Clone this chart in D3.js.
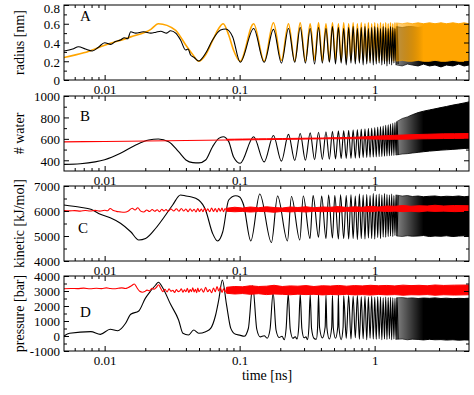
<!DOCTYPE html>
<html>
<head>
<meta charset="utf-8">
<script src="https://cdn.jsdelivr.net/npm/d3@7"></script>
<style>
  body { margin: 0; background: #fff; }
  text { font-family: "Liberation Serif", "Times New Roman", serif; fill: #000; }
  .tick text { font-size: 13px; }
</style>
</head>
<body>
<div id="chart"></div>
<script>
// ---- data ----

// times (ns) of successive extrema of the oscillation, trough / peak alternating
const tExt = [0.101,0.127,0.152,0.178,0.204,0.230,0.256,0.281,0.307,0.333,
              0.359,0.384,0.410,0.436,0.462,0.487,0.513,0.539,0.565,0.590,
              0.616,0.642,0.668,0.693,0.719,0.745,0.771,0.796,0.822,0.848,
              0.874,0.899,0.925,0.951,0.977,1.002,1.028,1.054,1.080,1.105,
              1.131,1.157,1.183,1.208,1.234,1.260,1.286,1.311,1.337,1.363,
              1.389,1.414,1.440,1.466,1.492];

// times where the traces become a dense band
const bandT = [1.45,1.6,1.75,1.9,2.1,2.3,2.55,2.8,3.1,3.4,3.8,4.2,4.6,5.0];
const redT = [0.08,0.092,0.105,0.12,0.138,0.158,0.18,0.207,0.237,0.27,
              0.31,0.355,0.41,0.47,0.54,0.62,0.71,0.81,0.93,1.07,
              1.23,1.41,1.62,1.86,2.13,2.45,2.8,3.25,3.9,5.0];

// A: radius [nm]
const aEarly = [[0.005,0.31],[0.0058,0.33],[0.0064,0.355],[0.0072,0.33],[0.0081,0.31],[0.009,0.35],
  [0.01,0.398],[0.0111,0.38],[0.012,0.41],[0.0131,0.427],[0.014,0.45],[0.0148,0.44],[0.0156,0.515],
  [0.017,0.5],[0.0194,0.515],[0.022,0.5],[0.024,0.51],[0.026,0.52],[0.0288,0.5],[0.0308,0.526],
  [0.0336,0.5],[0.0365,0.427],[0.0398,0.32],[0.0415,0.33],[0.0433,0.267],[0.046,0.24],[0.0497,0.203],
  [0.0559,0.285],[0.063,0.427],[0.0722,0.533],[0.0787,0.544],[0.0887,0.462]];
const aLate = [0.19,0.55,0.19,0.54,0.18,0.55,0.19,0.56,0.18,0.55,0.17,0.56,0.18,0.55,0.19,0.57,
  0.17,0.56,0.18,0.55,0.16,0.56,0.18,0.57,0.17,0.55,0.18,0.56,0.16,0.57,0.17,0.55,0.18,0.56,
  0.16,0.57,0.17,0.56,0.18,0.55,0.16,0.57,0.17,0.56,0.15,0.55,0.17,0.57,0.16,0.56,0.18,0.55,
  0.16,0.57,0.17];
const aBandHi = [0.57,0.56,0.57,0.57,0.56,0.57,0.56,0.57,0.57,0.56,0.57,0.56,0.57,0.57];
const aBandLo = [0.16,0.15,0.17,0.16,0.15,0.17,0.15,0.16,0.14,0.16,0.15,0.17,0.15,0.16];
const orgEarly = [[0.005,0.24],[0.007,0.29],[0.01,0.37],[0.0156,0.46],[0.022,0.54],[0.025,0.60],
  [0.0336,0.53],[0.0365,0.46],[0.04,0.37],[0.045,0.27],[0.0497,0.20],[0.056,0.27],[0.063,0.42],
  [0.07,0.55],[0.0755,0.60],[0.083,0.48],[0.09,0.32]];
const orgLate = [0.20,0.60,0.20,0.61,0.21,0.60,0.20,0.61,0.20,0.60,
  0.21,0.61,0.20,0.60,0.20,0.61,0.21,0.60,0.20,0.61,
  0.20,0.60,0.21,0.61,0.20,0.60,0.20,0.61,0.21,0.60,
  0.20,0.61,0.20,0.60,0.21,0.61,0.20,0.60,0.20,0.61,
  0.21,0.60,0.20,0.61,0.20,0.60,0.21,0.61,0.20,0.60,
  0.20,0.61,0.21,0.60,0.20];
const orgBandHi = [0.61,0.60,0.61,0.60,0.61,0.60,0.61,0.60,0.61,0.60,0.61,0.60,0.61,0.60];
const orgBandLo = [0.20,0.21,0.20,0.20,0.21,0.20,0.20,0.21,0.20,0.20,0.21,0.20,0.20,0.21];

// B: # water
const bEarly = [[0.005,362],[0.0066,368],[0.0085,385],[0.01,405],[0.0131,465],[0.017,543],
  [0.0212,589],[0.025,598],[0.0298,574],[0.0353,480],[0.04,403],[0.045,378],[0.05,376],
  [0.056,403],[0.063,527],[0.07,605],[0.0755,620],[0.083,574],[0.09,434]];
const bLate = [372,620,385,632,392,642,398,650,400,656,405,662,408,667,410,671,413,675,
  415,678,418,681,418,684,420,688,422,692,425,695,426,699,428,702,430,706,432,710,
  434,715,436,720,438,726,440,732,442,738,444,745,446,752,448,760,450];
const bBandHi = [760,790,805,825,845,858,870,880,892,902,915,925,935,945];
const bBandLo = [450,458,462,468,474,480,486,490,495,498,502,506,510,512];
const bRedEarly = [[0.005,572],[0.01,576],[0.02,580],[0.04,585],[0.08,590]];
const bRedLo = [588,589,590,591,592,593,594,595,596,597,598,599,600,601,600,
  601,601,600,598,597,596,596,597,598,600,601,602,603,604,605];
const bRedHi = [596,597,598,599,600,601,602,603,604,605,606,607,608,610,611,
  613,615,618,622,626,630,633,636,639,641,643,645,647,648,650];

// C: kinetic [kJ/mol]
const cEarly = [[0.005,6240],[0.0066,6150],[0.0079,6070],[0.0093,5870],[0.011,5730],[0.0131,5510],
  [0.0156,5170],[0.0179,4840],[0.0201,4900],[0.0239,5310],[0.0283,5840],[0.0319,6240],[0.0365,6640],
  [0.04,6600],[0.0433,6570],[0.0497,6440],[0.0559,6040],[0.063,5110],[0.0686,4800],[0.075,5170],
  [0.083,6440],[0.0935,6610],[0.1,6560],[0.107,6240],[0.121,4800],[0.141,6680],[0.172,4740],
  [0.191,6600],[0.226,4800],[0.242,6580],[0.279,4840],[0.296,6600],[0.332,4900],[0.35,6620],
  [0.384,4950],[0.405,6600],[0.436,4900],[0.456,6640],[0.487,4920],[0.507,6620],[0.539,4880],
  [0.559,6650],[0.590,4900]];
const cLate = [6620,4880,6650,4900,6600,4860,6680,4900,6640,4880,6660,4920,6620,4900,6700,4880,
  6650,4940,6680,4900,6640,4960,6700,4950,6660,4980,6640,5000,6680,4980,6620,5020,6650,5000,6620];
const cBandHi = [6640,6600,6620,6580,6600,6570,6590,6600,6570,6590,6580,6600,6570,6590];
const cBandLo = [5000,4980,5010,4990,5000,5020,4980,5000,4990,5010,4980,5000,5010,4990];
const cRedEarly = [[0.005,6020],[0.0055,6005],[0.006,6015],[0.0066,5995],[0.0072,6020],[0.0078,6000],
  [0.0085,6025],[0.0092,5995],[0.01,6030],[0.0105,6010],[0.011,6100],[0.0115,6030],[0.0122,5985],
  [0.013,5965],[0.014,5950],[0.015,6000],[0.016,6110],[0.0168,6040],[0.0176,6130],[0.0185,5995],
  [0.0195,5960],[0.0205,6040],[0.0215,5980],[0.0225,6060],[0.0235,5990],[0.0245,6050],[0.0255,5970],
  [0.0265,6070],[0.0275,6000],[0.0285,6060],[0.0295,5980],[0.031,6080],[0.0325,6000],[0.034,6090],
  [0.0355,5990],[0.037,6100],[0.0385,6000],[0.04,6080],[0.0415,5970],[0.043,6090],[0.0445,5990],
  [0.046,6070],[0.0475,5960],[0.049,6100],[0.0505,5980],[0.052,6080],[0.0535,5970],[0.055,6110],
  [0.0565,5990],[0.058,6090],[0.06,5970],[0.062,6120],[0.064,5980],[0.066,6100],[0.068,5960],
  [0.07,6110],[0.072,5990],[0.074,6120],[0.076,5970],[0.078,6100],[0.08,6000]];
const cRedLo = [5990,5970,5985,5960,5980,5975,5950,5985,5965,5980,5960,5990,5970,5985,5960,
  5995,5975,5990,5970,6000,5980,5995,5975,5990,5970,6000,5985,5995,5975,5990];
const cRedHi = [6110,6150,6120,6160,6130,6170,6140,6120,6160,6140,6170,6130,6160,6150,6180,
  6140,6170,6150,6190,6160,6200,6190,6220,6190,6210,6200,6230,6200,6220,6210];

// D: pressure [bar]
const dEarly = [[0.005,0],[0.0055,180],[0.0079,290],[0.0093,110],[0.011,450],[0.0125,350],
  [0.0143,850],[0.0156,1450],[0.0179,1670],[0.02,2510],[0.0219,3000],[0.0239,3400],[0.025,3580],
  [0.0269,3220],[0.0308,2110],[0.0353,1070],[0.038,180],[0.0418,70],[0.0457,400],[0.0497,180],
  [0.056,290],[0.061,510],[0.0664,1400],[0.07,2400],[0.0745,3730],[0.08,2070],[0.086,510],
  [0.0935,110],[0.1,60],[0.108,-20],[0.116,500],[0.125,3350],[0.134,450],[0.142,-60],[0.152,20],
  [0.16,-150],[0.168,450],[0.177,2900],[0.186,400],[0.196,-100],[0.206,-20],[0.214,-250],
  [0.221,500],[0.229,2800],[0.237,450],[0.248,-150],[0.258,-50],[0.266,-200],[0.274,600],
  [0.281,2780],[0.289,500],[0.3,-120],[0.31,-60],[0.318,-250],[0.326,600],[0.333,2750],
  [0.341,500],[0.355,-150],[0.37,-220],[0.378,600],[0.384,2800],[0.391,550],[0.41,-130],
  [0.43,600],[0.436,2720],[0.443,550],[0.462,-200],[0.481,600],[0.487,2700],[0.494,550],
  [0.513,-150],[0.533,600],[0.539,2750],[0.545,550],[0.565,-250],[0.584,600],[0.590,2680]];
const dLate = [-150,2700,-200,2650,-120,2700,-220,2620,-180,2650,-250,2600,-150,2650,-200,2580,
  -220,2620,-180,2600,-250,2550,-200,2600,-230,2560,-180,2580,-250,2550,-200,2520,-240,2550,-220];
const dBandHi = [2550,2560,2520,2540,2500,2530,2510,2540,2500,2520,2490,2510,2500,2520];
const dBandLo = [-220,-200,-250,-210,-230,-260,-220,-250,-240,-270,-250,-280,-260,-270];
const dRedEarly = [[0.005,3150],[0.0056,3170],[0.0063,3160],[0.007,3190],[0.0078,3150],[0.0087,3180],
  [0.0095,3160],[0.0103,3210],[0.011,3170],[0.0118,3150],[0.0126,3180],[0.0134,3210],[0.0142,3170],
  [0.015,3240],[0.0158,3350],[0.0166,3470],[0.0174,3200],[0.0182,2980],[0.019,2920],[0.0198,2960],
  [0.0206,3060],[0.0215,3010],[0.0224,3180],[0.0233,3120],[0.0242,3250],[0.0251,3420],[0.026,3180],
  [0.027,2960],[0.028,3120],[0.029,2930],[0.030,3150],[0.031,2980],[0.032,3050],[0.033,2900],
  [0.034,3100],[0.035,2960],[0.036,3000],[0.037,3150],[0.038,2920],[0.039,3080],[0.040,2950],
  [0.041,3180],[0.042,2900],[0.043,3100],[0.044,2960],[0.045,3220],[0.046,2940],[0.047,3120],
  [0.048,2890],[0.049,3200],[0.050,2960],[0.052,3150],[0.054,2920],[0.056,3250],[0.058,2950],
  [0.06,3100],[0.062,2880],[0.064,3200],[0.066,2950],[0.068,3300],[0.07,3000],[0.072,3250],
  [0.074,2900],[0.076,3150],[0.078,2950],[0.08,3200]];
const dRedLo = [2850,2800,2830,2780,2820,2760,2800,2780,2750,2790,2760,2780,2740,2770,2750,
  2780,2740,2760,2730,2770,2740,2760,2720,2750,2740,2760,2720,2750,2730,2750];
const dRedHi = [3250,3300,3280,3350,3300,3320,3380,3300,3340,3320,3360,3300,3350,3330,3370,
  3320,3360,3340,3380,3350,3370,3340,3390,3360,3380,3350,3400,3370,3390,3400];

// ticks
const xMajor = [0.01, 0.1, 1];
const xMinor = [0.006,0.007,0.008,0.009,0.02,0.03,0.04,0.05,0.06,0.07,0.08,0.09,
                0.2,0.3,0.4,0.5,0.6,0.7,0.8,0.9,2,3,4];
const aTicks = [0, 0.2, 0.4, 0.6, 0.8], aMinor = [0.1, 0.3, 0.5, 0.7];
const bTicks = [400, 600, 800, 1000], bMinor = [500, 700, 900];
const cTicks = [4000, 5000, 6000, 7000], cMinor = [4500, 5500, 6500];
const dTicks = [-1000, 0, 1000, 2000, 3000, 4000], dMinor = [-500, 500, 1500, 2500, 3500];

// ---- chart ----
const W = 474, H = 395, PH = 75;
const left = 64, right = 469;

const svg = d3.select('#chart').append('svg')
    .attr('width', W)
    .attr('height', H)
    .style('background', '#fff');

const x = d3.scaleLog().domain([0.005, 5]).range([left, right]);

// the dense bands fade in, as the real traces get denser there
let defs = svg.append('defs');
[['fadeBlack', '#000'], ['fadeOrange', '#ffa500']].forEach(function(f) {
    let lg = defs.append('linearGradient').attr('id', f[0])
        .attr('gradientUnits', 'userSpaceOnUse')
        .attr('x1', x(1.4)).attr('x2', x(2.3)).attr('y1', 0).attr('y2', 0);
    lg.append('stop').attr('offset', 0).attr('stop-color', f[1]).attr('stop-opacity', 0.45);
    lg.append('stop').attr('offset', 1).attr('stop-color', f[1]).attr('stop-opacity', 1);
});

function joinLate(early, late) {
    let k0 = tExt.length - late.length;
    return early.concat(late.map(function(v, i) { return [tExt[k0 + i], v]; }));
}
function band(ts, lo, hi) {
    return ts.map(function(t, i) { return { t: t, lo: lo[i], hi: hi[i] }; });
}

const panels = [
    { top: 5, domain: [0, 0.8], ticks: aTicks, minor: aMinor, title: 'radius [nm]',
      letter: 'A', lx: 80, ly: 16,
      black: joinLate(aEarly, aLate), blackBand: band(bandT, aBandLo, aBandHi),
      orange: joinLate(orgEarly, orgLate), orangeBand: band(bandT, orgBandLo, orgBandHi) },
    { top: 96, domain: [300, 1000], ticks: bTicks, minor: bMinor, title: '# water',
      letter: 'B', lx: 80, ly: 25,
      black: joinLate(bEarly, bLate), blackBand: band(bandT, bBandLo, bBandHi),
      red: bRedEarly, redBand: band(redT, bRedLo, bRedHi) },
    { top: 186, domain: [4000, 7000], ticks: cTicks, minor: cMinor, title: 'kinetic [kJ/mol]',
      letter: 'C', lx: 78, ly: 47,
      black: joinLate(cEarly, cLate), blackBand: band(bandT, cBandLo, cBandHi),
      red: cRedEarly, redBand: band(redT, cRedLo, cRedHi) },
    { top: 276, domain: [-1000, 4000], ticks: dTicks, minor: dMinor, title: 'pressure [bar]',
      letter: 'D', lx: 80, ly: 41,
      black: joinLate(dEarly, dLate), blackBand: band(bandT, dBandLo, dBandHi),
      red: dRedEarly, redBand: band(redT, dRedLo, dRedHi) }
];

function stripStyle(g) {
    g.select('.domain').remove();
    g.attr('font-family', null).attr('font-size', null);
}

panels.forEach(function(p, i) {
    let bot = p.top + PH;
    let y = d3.scaleLinear().domain(p.domain).range([bot, p.top]);

    let line = d3.line()
        .x(function(d) { return x(d[0]); })
        .y(function(d) { return y(d[1]); })
        .curve(d3.curveMonotoneX);
    let area = d3.area()
        .x(function(d) { return x(d.t); })
        .y0(function(d) { return y(d.lo); })
        .y1(function(d) { return y(d.hi); });

    svg.append('clipPath').attr('id', 'clip' + i)
        .append('rect')
        .attr('x', left).attr('y', p.top)
        .attr('width', right - left).attr('height', PH);

    let g = svg.append('g').attr('clip-path', 'url(#clip' + i + ')');

    if (p.orange) {
        g.append('path').attr('d', line(p.orange))
            .attr('fill', 'none').attr('stroke', '#ffa500').attr('stroke-width', 1.6);
    }

    g.append('path').attr('d', line(p.black))
        .attr('fill', 'none').attr('stroke', '#000').attr('stroke-width', 1.1);
    g.append('path').attr('d', area(p.blackBand))
        .attr('fill', 'url(#fadeBlack)').attr('stroke', 'url(#fadeBlack)').attr('stroke-width', 1);

    if (p.orangeBand) {
        g.append('path').attr('d', area(p.orangeBand))
            .attr('fill', 'url(#fadeOrange)').attr('stroke', 'url(#fadeOrange)').attr('stroke-width', 1);
    }
    if (p.red) {
        g.append('path').attr('d', line(p.red))
            .attr('fill', 'none').attr('stroke', '#ff0000').attr('stroke-width', 1.1);
        g.append('path').attr('d', area(p.redBand))
            .attr('fill', '#ff0000').attr('stroke', '#ff0000').attr('stroke-width', 1);
    }

    // axes: ticks inside on all four sides
    let ax = svg.append('g');
    ax.append('g').attr('transform', 'translate(0,' + bot + ')')
        .call(d3.axisBottom(x).tickValues(xMajor).tickFormat(d3.format('~g'))
            .tickSizeInner(-5).tickSizeOuter(0).tickPadding(5))
        .call(stripStyle);
    ax.append('g').attr('transform', 'translate(0,' + bot + ')')
        .call(d3.axisBottom(x).tickValues(xMinor).tickFormat('').tickSizeInner(-3).tickSizeOuter(0))
        .call(stripStyle);
    ax.append('g').attr('transform', 'translate(0,' + p.top + ')')
        .call(d3.axisTop(x).tickValues(xMajor).tickFormat('').tickSizeInner(-5).tickSizeOuter(0))
        .call(stripStyle);
    ax.append('g').attr('transform', 'translate(0,' + p.top + ')')
        .call(d3.axisTop(x).tickValues(xMinor).tickFormat('').tickSizeInner(-3).tickSizeOuter(0))
        .call(stripStyle);

    ax.append('g').attr('transform', 'translate(' + left + ',0)')
        .call(d3.axisLeft(y).tickValues(p.ticks).tickFormat(function(d) { return String(d); })
            .tickSizeInner(-5).tickSizeOuter(0).tickPadding(4))
        .call(stripStyle)
        .selectAll('text')
        .attr('dy', function(d) { return y(d) - 10 < 0 ? '0.55em' : '0.38em'; });
    ax.append('g').attr('transform', 'translate(' + left + ',0)')
        .call(d3.axisLeft(y).tickValues(p.minor).tickFormat('').tickSizeInner(-3).tickSizeOuter(0))
        .call(stripStyle);
    ax.append('g').attr('transform', 'translate(' + right + ',0)')
        .call(d3.axisRight(y).tickValues(p.ticks).tickFormat('').tickSizeInner(-5).tickSizeOuter(0))
        .call(stripStyle);
    ax.append('g').attr('transform', 'translate(' + right + ',0)')
        .call(d3.axisRight(y).tickValues(p.minor).tickFormat('').tickSizeInner(-3).tickSizeOuter(0))
        .call(stripStyle);

    svg.append('rect')
        .attr('x', left).attr('y', p.top)
        .attr('width', right - left).attr('height', PH)
        .attr('fill', 'none').attr('stroke', '#000').attr('stroke-width', 1);

    svg.append('text')
        .attr('x', p.lx).attr('y', p.top + p.ly)
        .style('font-size', '15px')
        .text(p.letter);

    svg.append('text')
        .attr('transform', 'translate(24,' + (p.top + PH / 2) + ') rotate(-90)')
        .attr('text-anchor', 'middle')
        .style('font-size', '14px')
        .text(p.title);
});

svg.append('text')
    .attr('x', 267).attr('y', 380)
    .attr('text-anchor', 'middle')
    .style('font-size', '14px')
    .text('time [ns]');
</script>
</body>
</html>
